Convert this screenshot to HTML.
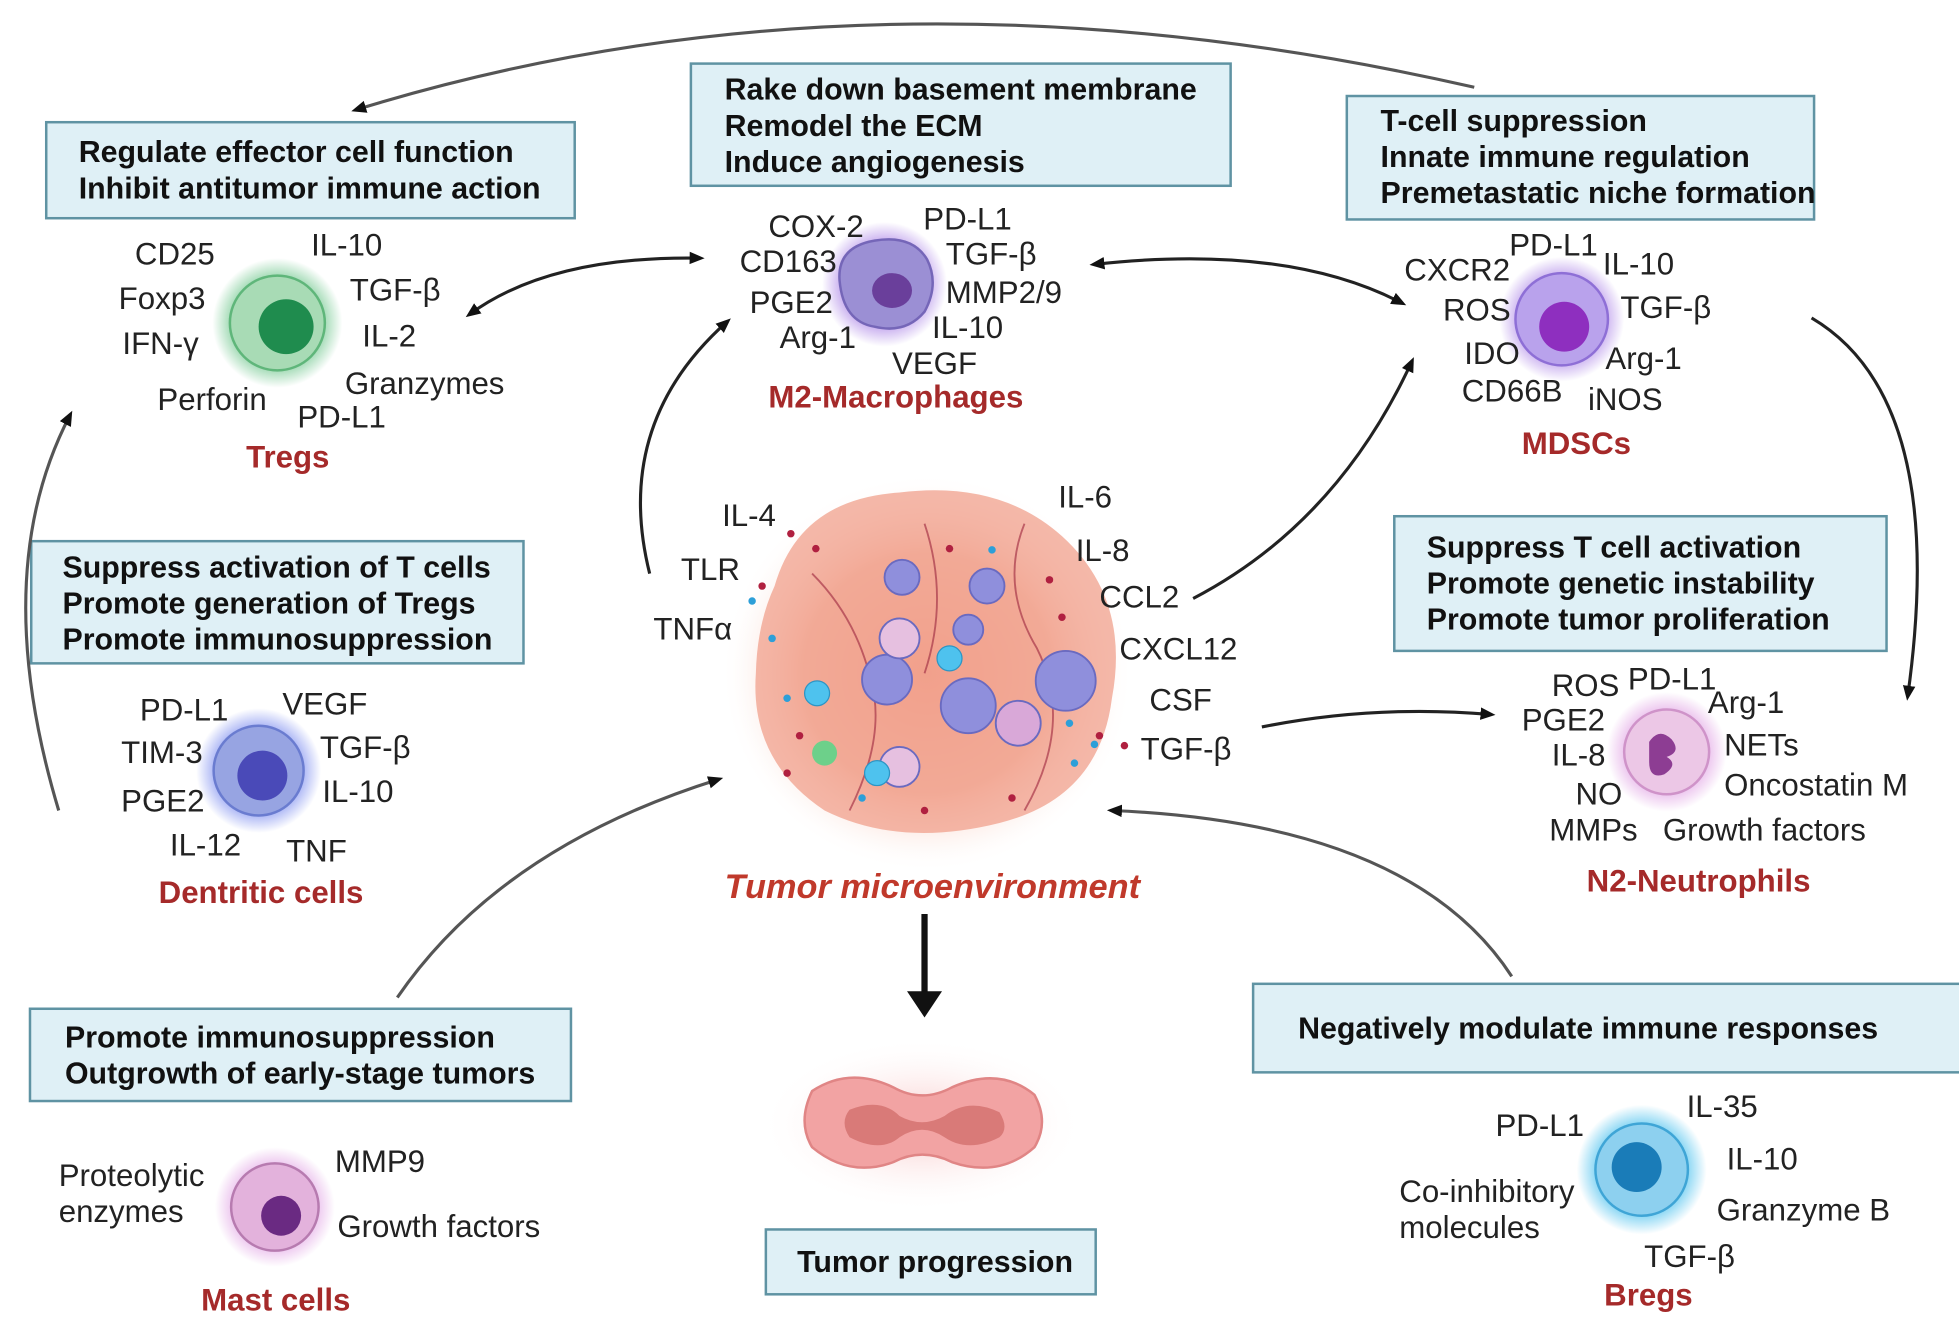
<!DOCTYPE html>
<html><head><meta charset="utf-8">
<style>
html,body{margin:0;padding:0;background:#fff;}
svg{display:block;}
text{font-family:"Liberation Sans",sans-serif;}
.b{font-weight:bold;font-size:24.3px;fill:#111;}
.t{font-size:25px;fill:#222;}
.r{font-weight:bold;font-size:25px;fill:#a52a2a;}
.box{fill:#dff0f6;stroke:#5f93a3;stroke-width:2;}
.arr{fill:none;stroke:#222;stroke-width:2.5;}
.arg{fill:none;stroke:#555;stroke-width:2.5;}
</style></head><body>
<svg width="1959" height="1318" viewBox="0 0 1568 1057" preserveAspectRatio="none" xmlns="http://www.w3.org/2000/svg">
<defs>
<marker id="ah" markerWidth="14" markerHeight="12" refX="8" refY="5" orient="auto-start-reverse" markerUnits="userSpaceOnUse"><path d="M0,0 L12,5 L0,10 z" fill="#111"/></marker>
<radialGradient id="gG"><stop offset="0.55" stop-color="#6cc58a"/><stop offset="1" stop-color="#6cc58a" stop-opacity="0"/></radialGradient>
<radialGradient id="gB"><stop offset="0.55" stop-color="#7f8ff0"/><stop offset="1" stop-color="#7f8ff0" stop-opacity="0"/></radialGradient>
<radialGradient id="gP"><stop offset="0.55" stop-color="#b08ae8"/><stop offset="1" stop-color="#b08ae8" stop-opacity="0"/></radialGradient>
<radialGradient id="gC"><stop offset="0.55" stop-color="#4ec2ee"/><stop offset="1" stop-color="#4ec2ee" stop-opacity="0"/></radialGradient>
<radialGradient id="gM"><stop offset="0.55" stop-color="#e3a9e6"/><stop offset="1" stop-color="#e3a9e6" stop-opacity="0"/></radialGradient>
<radialGradient id="gT"><stop offset="0" stop-color="#f4a08a"/><stop offset="0.6" stop-color="#f6b5a0" stop-opacity="0.8"/><stop offset="1" stop-color="#fff" stop-opacity="0"/></radialGradient>
<radialGradient id="gR"><stop offset="0" stop-color="#f8c6c6"/><stop offset="1" stop-color="#fff" stop-opacity="0"/></radialGradient>
</defs>

<rect class="box" x="37" y="98" width="423" height="77"/>
<text class="b" x="63" y="130">Regulate effector cell function</text>
<text class="b" x="63" y="159">Inhibit antitumor immune action</text>

<rect class="box" x="553" y="51" width="432" height="98"/>
<text class="b" x="580" y="80">Rake down basement membrane</text>
<text class="b" x="580" y="109">Remodel the ECM</text>
<text class="b" x="580" y="138">Induce angiogenesis</text>

<rect class="box" x="1078" y="77" width="374" height="99"/>
<text class="b" x="1105" y="105">T-cell suppression</text>
<text class="b" x="1105" y="134">Innate immune regulation</text>
<text class="b" x="1105" y="163">Premetastatic niche formation</text>

<rect class="box" x="25" y="434" width="394" height="98"/>
<text class="b" x="50" y="463">Suppress activation of T cells</text>
<text class="b" x="50" y="492">Promote generation of Tregs</text>
<text class="b" x="50" y="521">Promote immunosuppression</text>

<rect class="box" x="1116" y="414" width="394" height="108"/>
<text class="b" x="1142" y="447">Suppress T cell activation</text>
<text class="b" x="1142" y="476">Promote genetic instability</text>
<text class="b" x="1142" y="505">Promote tumor proliferation</text>

<rect class="box" x="24" y="809" width="433" height="74"/>
<text class="b" x="52" y="840">Promote immunosuppression</text>
<text class="b" x="52" y="869">Outgrowth of early-stage tumors</text>

<rect class="box" x="1003" y="789" width="570" height="71"/>
<text class="b" x="1039" y="833">Negatively modulate immune responses</text>

<rect class="box" x="613" y="986" width="264" height="52"/>
<text class="b" x="638" y="1020">Tumor progression</text>

<circle cx="222" cy="259" r="52" fill="url(#gG)"/>
<circle cx="222" cy="259" r="38" fill="#a8dbb5" stroke="#5fb67a" stroke-width="2"/>
<circle cx="229" cy="262" r="22" fill="#1f8c4e"/>
<text class="t" x="108" y="212">CD25</text><text class="t" x="249" y="205">IL-10</text>
<text class="t" x="95" y="248">Foxp3</text><text class="t" x="280" y="241">TGF-β</text>
<text class="t" x="98" y="284">IFN-γ</text><text class="t" x="290" y="278">IL-2</text>
<text class="t" x="276" y="316">Granzymes</text>
<text class="t" x="126" y="329">Perforin</text><text class="t" x="238" y="343">PD-L1</text>
<text class="r" x="197" y="375">Tregs</text>

<circle cx="708" cy="228" r="50" fill="url(#gP)"/>
<path d="M672,225 Q670,198 700,193 Q730,188 742,208 Q752,228 740,250 Q725,268 700,262 Q675,258 672,225z" fill="#9b8fd4" stroke="#7566b8" stroke-width="2"/>
<ellipse cx="714" cy="233" rx="16" ry="14" fill="#6a3f9b"/>
<text class="t" x="615" y="190">COX-2</text><text class="t" x="739" y="184">PD-L1</text>
<text class="t" x="592" y="218">CD163</text><text class="t" x="757" y="212">TGF-β</text>
<text class="t" x="600" y="251">PGE2</text><text class="t" x="757" y="243">MMP2/9</text>
<text class="t" x="624" y="279">Arg-1</text><text class="t" x="746" y="271">IL-10</text>
<text class="t" x="714" y="300">VEGF</text>
<text class="r" x="615" y="327">M2-Macrophages</text>

<circle cx="1250" cy="256" r="50" fill="url(#gP)"/>
<circle cx="1250" cy="256" r="37" fill="#b9a2ec" stroke="#8e6fd6" stroke-width="2"/>
<circle cx="1252" cy="262" r="20" fill="#8e2fbf"/>
<text class="t" x="1208" y="205">PD-L1</text><text class="t" x="1283" y="220">IL-10</text>
<text class="t" x="1124" y="225">CXCR2</text><text class="t" x="1297" y="255">TGF-β</text>
<text class="t" x="1155" y="257">ROS</text>
<text class="t" x="1172" y="292">IDO</text><text class="t" x="1285" y="296">Arg-1</text>
<text class="t" x="1170" y="322">CD66B</text><text class="t" x="1271" y="329">iNOS</text>
<text class="r" x="1218" y="364">MDSCs</text>

<circle cx="207" cy="618" r="50" fill="url(#gB)"/>
<circle cx="207" cy="618" r="36" fill="#97a4e2" stroke="#6a7cd0" stroke-width="2"/>
<circle cx="210" cy="622" r="20" fill="#4a4ab8"/>
<text class="t" x="112" y="578">PD-L1</text><text class="t" x="226" y="573">VEGF</text>
<text class="t" x="97" y="612">TIM-3</text><text class="t" x="256" y="608">TGF-β</text>
<text class="t" x="258" y="643">IL-10</text>
<text class="t" x="97" y="651">PGE2</text>
<text class="t" x="136" y="686">IL-12</text><text class="t" x="229" y="691">TNF</text>
<text class="r" x="127" y="724">Dentritic cells</text>

<circle cx="1334" cy="603" r="48" fill="url(#gM)"/>
<circle cx="1334" cy="603" r="34" fill="#ecc7e6" stroke="#cf93c9" stroke-width="2"/>
<path d="M1320,595 q8,-12 18,-2 q8,10 -4,14 q10,6 -2,14 q-12,4 -12,-10z" fill="#8d3d93"/>
<text class="t" x="1242" y="558">ROS</text><text class="t" x="1303" y="553">PD-L1</text><text class="t" x="1367" y="572">Arg-1</text>
<text class="t" x="1218" y="586">PGE2</text><text class="t" x="1380" y="606">NETs</text>
<text class="t" x="1242" y="614">IL-8</text><text class="t" x="1380" y="638">Oncostatin M</text>
<text class="t" x="1261" y="645">NO</text>
<text class="t" x="1240" y="674">MMPs</text><text class="t" x="1331" y="674">Growth factors</text>
<text class="r" x="1270" y="715">N2-Neutrophils</text>

<circle cx="220" cy="968" r="48" fill="url(#gM)"/>
<circle cx="220" cy="968" r="35" fill="#e3b2dc" stroke="#b77bb0" stroke-width="2"/>
<circle cx="225" cy="975" r="16" fill="#6a2a82"/>
<text class="t" x="47" y="951">Proteolytic</text><text class="t" x="47" y="980">enzymes</text>
<text class="t" x="268" y="940">MMP9</text><text class="t" x="270" y="992">Growth factors</text>
<text class="r" x="161" y="1051">Mast cells</text>

<circle cx="1314" cy="938" r="52" fill="url(#gC)"/>
<circle cx="1314" cy="938" r="37" fill="#8dd0ef" stroke="#3fa5d6" stroke-width="2"/>
<circle cx="1310" cy="936" r="20" fill="#1a7cb8"/>
<text class="t" x="1197" y="911">PD-L1</text><text class="t" x="1350" y="896">IL-35</text>
<text class="t" x="1382" y="938">IL-10</text>
<text class="t" x="1120" y="964">Co-inhibitory</text><text class="t" x="1120" y="993">molecules</text>
<text class="t" x="1374" y="979">Granzyme B</text>
<text class="t" x="1316" y="1016">TGF-β</text>
<text class="r" x="1284" y="1047">Bregs</text>

<ellipse cx="742" cy="540" rx="165" ry="160" fill="url(#gT)"/>
<path d="M620,470 Q640,400 720,395 Q800,385 850,430 Q905,480 890,560 Q880,640 800,660 Q720,680 660,650 Q600,610 605,540 Q606,500 620,470z" fill="#f0a08c" opacity="0.75"/>
<g fill="none" stroke="#a8384a" stroke-width="1.5" opacity="0.7">
<path d="M650,460 Q690,500 700,560 Q705,600 680,650"/><path d="M820,420 Q800,470 830,520 Q860,580 820,650"/><path d="M740,420 Q760,480 740,540"/>
</g>
<g fill="#8f8fdc" stroke="#6a6ac0" stroke-width="1.5">
<circle cx="722" cy="463" r="14"/><circle cx="790" cy="470" r="14"/><circle cx="710" cy="545" r="20"/><circle cx="775" cy="566" r="22"/><circle cx="853" cy="546" r="24"/><circle cx="775" cy="505" r="12"/>
<circle cx="815" cy="580" r="18" fill="#d9a8d8"/><circle cx="720" cy="512" r="16" fill="#e6c0e0"/><circle cx="720" cy="615" r="16" fill="#e6c0e0"/>
</g>
<g fill="#4ec2ee" stroke="#2d95c4"><circle cx="654" cy="556" r="10"/><circle cx="760" cy="528" r="10"/><circle cx="702" cy="620" r="10"/></g>
<circle cx="660" cy="604" r="10" fill="#6dd08a"/>
<g fill="#b02040"><circle cx="633" cy="428" r="3"/><circle cx="653" cy="440" r="3"/><circle cx="610" cy="470" r="3"/><circle cx="840" cy="465" r="3"/><circle cx="850" cy="495" r="3"/><circle cx="880" cy="590" r="3"/><circle cx="900" cy="598" r="3"/><circle cx="640" cy="590" r="3"/><circle cx="760" cy="440" r="3"/><circle cx="810" cy="640" r="3"/><circle cx="740" cy="650" r="3"/><circle cx="630" cy="620" r="3"/></g>
<g fill="#2d9fd8"><circle cx="602" cy="482" r="3"/><circle cx="618" cy="512" r="3"/><circle cx="794" cy="441" r="3"/><circle cx="856" cy="580" r="3"/><circle cx="876" cy="597" r="3"/><circle cx="860" cy="612" r="3"/><circle cx="630" cy="560" r="3"/><circle cx="690" cy="640" r="3"/></g>
<text class="t" x="578" y="422">IL-4</text><text class="t" x="847" y="407">IL-6</text>
<text class="t" x="545" y="465">TLR</text><text class="t" x="861" y="450">IL-8</text>
<text class="t" x="523" y="513">TNFα</text><text class="t" x="880" y="487">CCL2</text>
<text class="t" x="896" y="529">CXCL12</text>
<text class="t" x="920" y="570">CSF</text>
<text class="t" x="913" y="609">TGF-β</text>
<text x="580" y="720" style="font-weight:bold;font-style:italic;font-size:27.5px;fill:#c0392b">Tumor microenvironment</text>

<ellipse cx="738" cy="902" rx="130" ry="70" fill="url(#gR)"/>
<path d="M650,875 Q680,855 715,872 Q738,885 762,872 Q800,855 828,878 Q840,900 828,920 Q800,945 762,932 Q738,920 715,932 Q680,945 650,920 Q638,900 650,875z" fill="#f2a3a3" stroke="#e08585" stroke-width="2"/>
<path d="M680,890 Q705,880 720,895 Q738,905 756,895 Q775,880 800,892 Q808,905 800,912 Q775,925 756,912 Q738,900 720,912 Q705,925 680,912 Q672,900 680,890z" fill="#d97a78"/>

<path class="arg" marker-end="url(#ah)" d="M1180,70 Q700,-40 285,88"/>
<path class="arr" marker-start="url(#ah)" marker-end="url(#ah)" d="M376,252 Q440,205 560,207"/>
<path class="arr" marker-start="url(#ah)" marker-end="url(#ah)" d="M876,212 Q1030,195 1122,243"/>
<path class="arr" marker-end="url(#ah)" d="M520,460 Q490,340 582,258"/>
<path class="arr" marker-end="url(#ah)" d="M955,480 Q1070,420 1130,290"/>
<path class="arr" marker-end="url(#ah)" d="M1450,255 Q1560,320 1527,558"/>
<path class="arr" marker-end="url(#ah)" d="M1010,583 Q1100,565 1193,573"/>
<path class="arg" marker-end="url(#ah)" d="M47,650 Q-10,460 56,333"/>
<path class="arg" marker-end="url(#ah)" d="M318,800 Q400,680 575,625"/>
<path class="arg" marker-end="url(#ah)" d="M1210,783 Q1130,660 890,650"/>
<path d="M740,733 L740,800" stroke="#111" stroke-width="5"/>
<path d="M726,795 L754,795 L740,816z" fill="#111"/>
</svg>
</body></html>
